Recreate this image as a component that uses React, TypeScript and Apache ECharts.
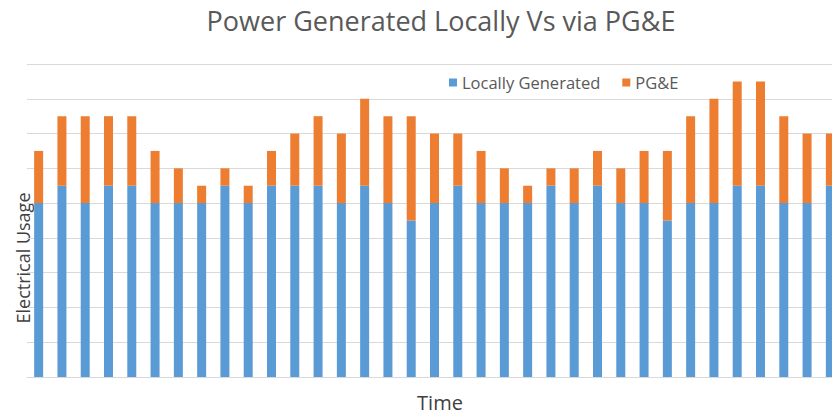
import React, { useEffect, useRef } from "react";
import * as echarts from "echarts";

const categories: string[] = Array.from({ length: 35 }, (_, i) => `T${i + 1}`);

const locallyGenerated: number[] = [
  5, 5.5, 5, 5.5, 5.5, 5, 5, 5, 5.5, 5,
  5.5, 5.5, 5.5, 5, 5.5, 5, 4.5, 5, 5.5, 5,
  5, 5, 5.5, 5, 5.5, 5, 5, 4.5, 5, 5,
  5.5, 5.5, 5, 5, 5.5,
];

const totals: number[] = [
  6.5, 7.5, 7.5, 7.5, 7.5, 6.5, 6, 5.5, 6, 5.5,
  6.5, 7, 7.5, 7, 8, 7.5, 7.5, 7, 7, 6.5,
  6, 5.5, 6, 6, 6.5, 6, 6.5, 6.5, 7.5, 8,
  8.5, 8.5, 7.5, 7, 7,
];

const pge: number[] = totals.map((t, i) => t - locallyGenerated[i]);

const seriesNames = ["Locally Generated", "PG&E"];
const chartTitle = "Power Generated Locally Vs via PG&E";
const xTitle = "Time";
const yTitle = "Electrical Usage";

export default function App() {
  const ref = useRef<HTMLDivElement>(null);
  useEffect(() => {
    if (!ref.current) return;
    const chart = echarts.init(ref.current, undefined, { renderer: "svg" });
    const font = "'Open Sans', sans-serif";
    chart.setOption({
      animation: false,
      backgroundColor: "#ffffff",
      textStyle: { fontFamily: font },
      grid: { left: 27, top: 64, width: 815, height: 313, containLabel: false },
      legend: {
        left: 444,
        top: 69,
        itemWidth: 8,
        itemHeight: 8,
        itemGap: 22,
        icon: "rect",
        textStyle: { color: "#595959", fontSize: 16.5, fontFamily: font },
        data: seriesNames,
      },
      xAxis: {
        type: "category",
        data: categories,
        axisLine: { show: true, lineStyle: { color: "#d9d9d9", width: 1 } },
        axisTick: { show: false },
        axisLabel: { show: false },
      },
      yAxis: {
        type: "value",
        min: 0,
        max: 9,
        interval: 1,
        axisLine: { show: false },
        axisTick: { show: false },
        axisLabel: { show: false },
        splitLine: { show: true, lineStyle: { color: "#d9d9d9", width: 1 } },
      },
      series: [
        {
          name: seriesNames[0],
          type: "bar",
          stack: "total",
          data: locallyGenerated,
          barWidth: 9,
          itemStyle: { color: "#5b9bd5" },
        },
        {
          name: seriesNames[1],
          type: "bar",
          stack: "total",
          data: pge,
          barWidth: 9,
          itemStyle: { color: "#ed7d31" },
        },
      ],
      graphic: [
        {
          type: "text",
          x: 441,
          y: 20,
          style: {
            text: chartTitle,
            fill: "#595959",
            font: `27px ${font}`,
            textAlign: "center",
            textVerticalAlign: "middle",
          },
        },
        {
          type: "text",
          x: 440,
          y: 402,
          style: {
            text: xTitle,
            fill: "#404040",
            font: `20px ${font}`,
            textAlign: "center",
            textVerticalAlign: "middle",
          },
        },
        {
          type: "text",
          x: 23,
          y: 258,
          rotation: Math.PI / 2,
          style: {
            text: yTitle,
            fill: "#404040",
            font: `18px ${font}`,
            textAlign: "center",
            textVerticalAlign: "middle",
          },
        },
      ],
    });
    return () => chart.dispose();
  }, []);
  return (
    <div style={{ position: "absolute", left: 0, top: 0, width: 832, height: 415, overflow: "hidden" }}>
      <div ref={ref} style={{ width: 867, height: 415 }} />
    </div>
  );
}
